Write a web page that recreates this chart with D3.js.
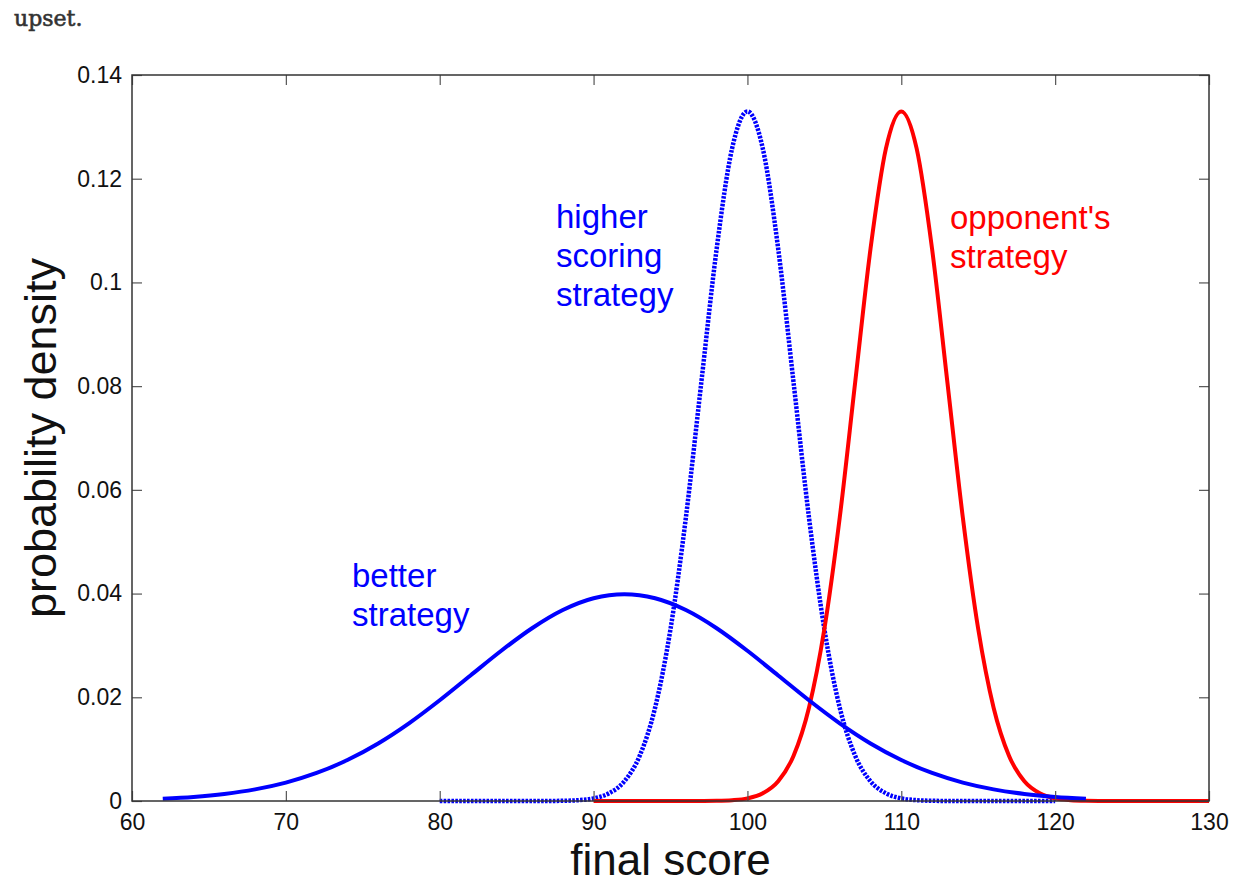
<!DOCTYPE html>
<html>
<head>
<meta charset="utf-8">
<script src="https://cdn.jsdelivr.net/npm/d3@7"></script>
<style>
html, body { margin: 0; padding: 0; background: #fff; }
svg { display: block; }
</style>
</head>
<body>
<svg id="chart" width="1235" height="883"></svg>
<script>
// ---------- data ----------
const xTicks = [60, 70, 80, 90, 100, 110, 120, 130];
const yTicks = [0, 0.02, 0.04, 0.06, 0.08, 0.1, 0.12, 0.14];
const yTickLabels = ["0", "0.02", "0.04", "0.06", "0.08", "0.1", "0.12", "0.14"];

// better strategy (solid blue)
const betterX = [62,64,66,68,70,72,74,76,78,80,82,84,86,88,90,92,94,96,98,100,102,104,106,108,110,112,114,116,118,120,122];
const betterY = [0.00044,0.00079,0.00136,0.00224,0.00355,0.0054,0.0079,0.01109,0.01497,0.01942,0.0242,0.02897,0.03332,0.03683,0.0391,0.03989,0.0391,0.03683,0.03332,0.02897,0.0242,0.01942,0.01497,0.01109,0.0079,0.0054,0.00355,0.00224,0.00136,0.00079,0.00044];

// higher scoring strategy (dotted blue)
const higherX = [80,81,82,83,84,85,86,87,88,89,90,91,92,93,94,95,96,97,98,99,100,101,102,103,104,105,106,107,108,109,110,111,112,113,114,115,116,117,118,119,120];
const higherY = [0,0,0,0,0,0,0,0.00001,0.00004,0.00016,0.00051,0.00148,0.0038,0.00874,0.018,0.03316,0.05467,0.08066,0.10648,0.1258,0.13298,0.1258,0.10648,0.08066,0.05467,0.03316,0.018,0.00874,0.0038,0.00148,0.00051,0.00016,0.00004,0.00001,0,0,0,0,0,0,0];

// opponent's strategy (solid red)
const oppX = [90,91,92,93,94,95,96,97,98,99,100,101,102,103,104,105,106,107,108,109,110,111,112,113,114,115,116,117,118,119,120,121,122,123,124,125,126,127,128,129,130];
const oppY = [0,0,0,0,0,0,0,0.00001,0.00004,0.00016,0.00051,0.00148,0.0038,0.00874,0.018,0.03316,0.05467,0.08066,0.10648,0.1258,0.13298,0.1258,0.10648,0.08066,0.05467,0.03316,0.018,0.00874,0.0038,0.00148,0.00051,0.00016,0.00004,0.00001,0,0,0,0,0,0,0];

// ---------- layout ----------
const L = 132, R = 1209, T = 75, B = 801;
const svg = d3.select("#chart");
const x = d3.scaleLinear().domain([60, 130]).range([L, R]);
const y = d3.scaleLinear().domain([0, 0.14]).range([B, T]);

const FONT = "'Liberation Sans', Arial, Helvetica, sans-serif";

// intro text fragment
svg.append("text")
  .attr("x", 14).attr("y", 26)
  .attr("font-family", "'DejaVu Serif', Georgia, serif")
  .attr("font-size", 22)
  .attr("fill", "#333")
  .attr("stroke", "#333").attr("stroke-width", 0.6)
  .text("upset.");

// ---------- curves ----------
const line = d3.line()
  .x(d => x(d[0]))
  .y(d => y(d[1]))
  .curve(d3.curveMonotoneX);

const zip = (a, b) => a.map((v, i) => [v, b[i]]);

const g = svg.append("g");

g.append("path")
  .datum(zip(higherX, higherY))
  .attr("d", line)
  .attr("fill", "none")
  .attr("stroke", "#0000ff")
  .attr("stroke-width", 4.5)
  .attr("stroke-dasharray", "2.6,1.3");

g.append("path")
  .datum(zip(oppX, oppY))
  .attr("d", line)
  .attr("fill", "none")
  .attr("stroke", "#ff0000")
  .attr("stroke-width", 4);

g.append("path")
  .datum(zip(betterX, betterY))
  .attr("d", line)
  .attr("fill", "none")
  .attr("stroke", "#0000ff")
  .attr("stroke-width", 4);

// ---------- axes ----------
const axisColor = "#333";
const tickColor = "#555";

function styleAxis(sel) {
  sel.select(".domain").remove();
  sel.selectAll(".tick line").attr("stroke", tickColor).attr("stroke-width", 1.2);
  sel.selectAll(".tick text").attr("font-family", FONT).attr("font-size", 23).attr("fill", "#111");
}

const xb = svg.append("g").attr("transform", `translate(0,${B})`)
  .call(d3.axisBottom(x).tickValues(xTicks).tickSizeInner(-10).tickSizeOuter(0).tickPadding(13).tickFormat(d3.format("d")));
styleAxis(xb);
xb.selectAll(".tick text").attr("dy", "0.71em");

const xt = svg.append("g").attr("transform", `translate(0,${T})`)
  .call(d3.axisTop(x).tickValues(xTicks).tickSizeInner(-10).tickSizeOuter(0).tickFormat(""));
styleAxis(xt);

const yl = svg.append("g").attr("transform", `translate(${L},0)`)
  .call(d3.axisLeft(y).tickValues(yTicks).tickSizeInner(-10).tickSizeOuter(0).tickPadding(10)
    .tickFormat((d, i) => yTickLabels[i]));
styleAxis(yl);

const yr = svg.append("g").attr("transform", `translate(${R},0)`)
  .call(d3.axisRight(y).tickValues(yTicks).tickSizeInner(-10).tickSizeOuter(0).tickFormat(""));
styleAxis(yr);

// box
svg.append("rect")
  .attr("x", L).attr("y", T).attr("width", R - L).attr("height", B - T)
  .attr("fill", "none").attr("stroke", axisColor).attr("stroke-width", 1.5);

// ---------- titles ----------
svg.append("text")
  .attr("x", (L + R) / 2).attr("y", 875)
  .attr("text-anchor", "middle")
  .attr("font-family", FONT).attr("font-size", 44).attr("fill", "#111")
  .text("final score");

svg.append("text")
  .attr("transform", `translate(56,${(T + B) / 2}) rotate(-90)`)
  .attr("text-anchor", "middle")
  .attr("font-family", FONT).attr("font-size", 45).attr("fill", "#111")
  .text("probability density");

// ---------- annotations ----------
function label(lines, x0, y0, color) {
  const t = svg.append("text")
    .attr("font-family", FONT).attr("font-size", 33).attr("fill", color);
  lines.forEach((s, i) => {
    t.append("tspan").attr("x", x0).attr("y", y0 + i * 39).text(s);
  });
}
label(["higher", "scoring", "strategy"], 556, 228, "#0000ff");
label(["opponent's", "strategy"], 950, 229, "#ff0000");
label(["better", "strategy"], 352, 587, "#0000ff");
</script>
</body>
</html>
